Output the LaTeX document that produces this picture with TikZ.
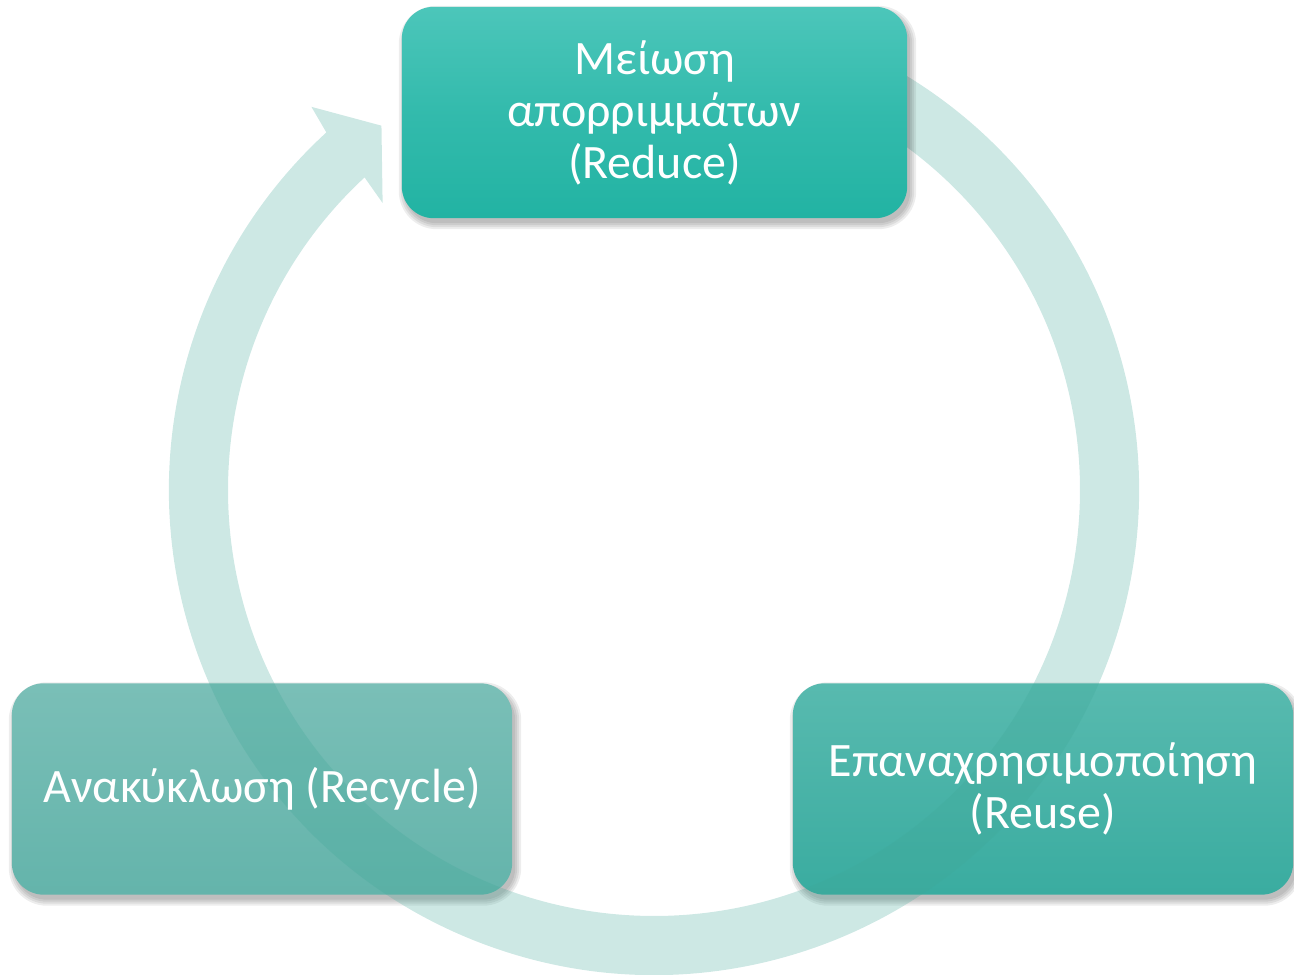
\documentclass[tikz,border=0pt]{standalone}
\usepackage{fontspec}
\setmainfont{Carlito}
\usetikzlibrary{calc}
\pgfdeclarelayer{boxes}
\pgfdeclarelayer{ring}
\pgfdeclarelayer{topbox}
\pgfsetlayers{boxes,ring,topbox,main}
\definecolor{ringteal}{RGB}{63,167,151}
\definecolor{topA}{RGB}{76,198,186}
\definecolor{topB}{RGB}{34,179,163}
\definecolor{reuA}{RGB}{88,186,175}
\definecolor{reuB}{RGB}{58,172,160}
\definecolor{recA}{RGB}{122,191,183}
\definecolor{recB}{RGB}{100,180,171}
\tikzset{
  stagebox/.style={minimum width=500pt, minimum height=211pt, inner sep=0pt,
    text=white, align=center, font=\fontsize{48}{52}\selectfont},
  boxfill/.style={rounded corners=32pt},
  shadowpiece/.style={fill=black, fill opacity=0.07},
  ringfill/.style={fill=ringteal, fill opacity=0.26}
}
\newcommand{\mysoftshadow}[1]{%
  \foreach \k in {0,2,4,6}{%
    \fill[shadowpiece, rounded corners=32pt+\k pt]
      ($(#1.south west)+(3-\k,-5-\k)$) rectangle ($(#1.north east)+(3+\k,-5+\k)$);
  }%
}
\begin{document}
\begin{tikzpicture}[x=1pt,y=1pt]
\useasboundingbox (0,0) rectangle (1294,975);
\coordinate (c) at (654,485);

\node[stagebox, minimum width=505pt] (red) at (654.5,862.5) {Μείωση\\απορριμμάτων\\(Reduce)};
\node[stagebox] (rec) at (262,186) {Ανακύκλωση (Recycle)};
\node[stagebox] (reu) at (1043,186) {Επαναχρησιμοποίηση\\(Reuse)};

\begin{pgfonlayer}{boxes}
  \mysoftshadow{rec}
  \mysoftshadow{reu}
  \shade[boxfill, top color=recA, bottom color=recB] (rec.south west) rectangle (rec.north east);
  \shade[boxfill, top color=reuA, bottom color=reuB] (reu.south west) rectangle (reu.north east);
\end{pgfonlayer}

\begin{pgfonlayer}{ring}
  \fill[ringfill] ($(c)+(70:485)$) arc[start angle=70, end angle=-227.5, radius=485]
    -- ($(c)+(131.8:514)$) -- ($(c)+(126.8:455)$) -- ($(c)+(133.4:395)$)
    -- ($(c)+(132.8:426)$) arc[start angle=-227.2, end angle=70, radius=426] -- cycle;
\end{pgfonlayer}

\begin{pgfonlayer}{topbox}
  \mysoftshadow{red}
  \shade[boxfill, top color=topA, bottom color=topB, middle color=topA!40!topB] (red.south west) rectangle (red.north east);
\end{pgfonlayer}
\end{tikzpicture}
\end{document}
